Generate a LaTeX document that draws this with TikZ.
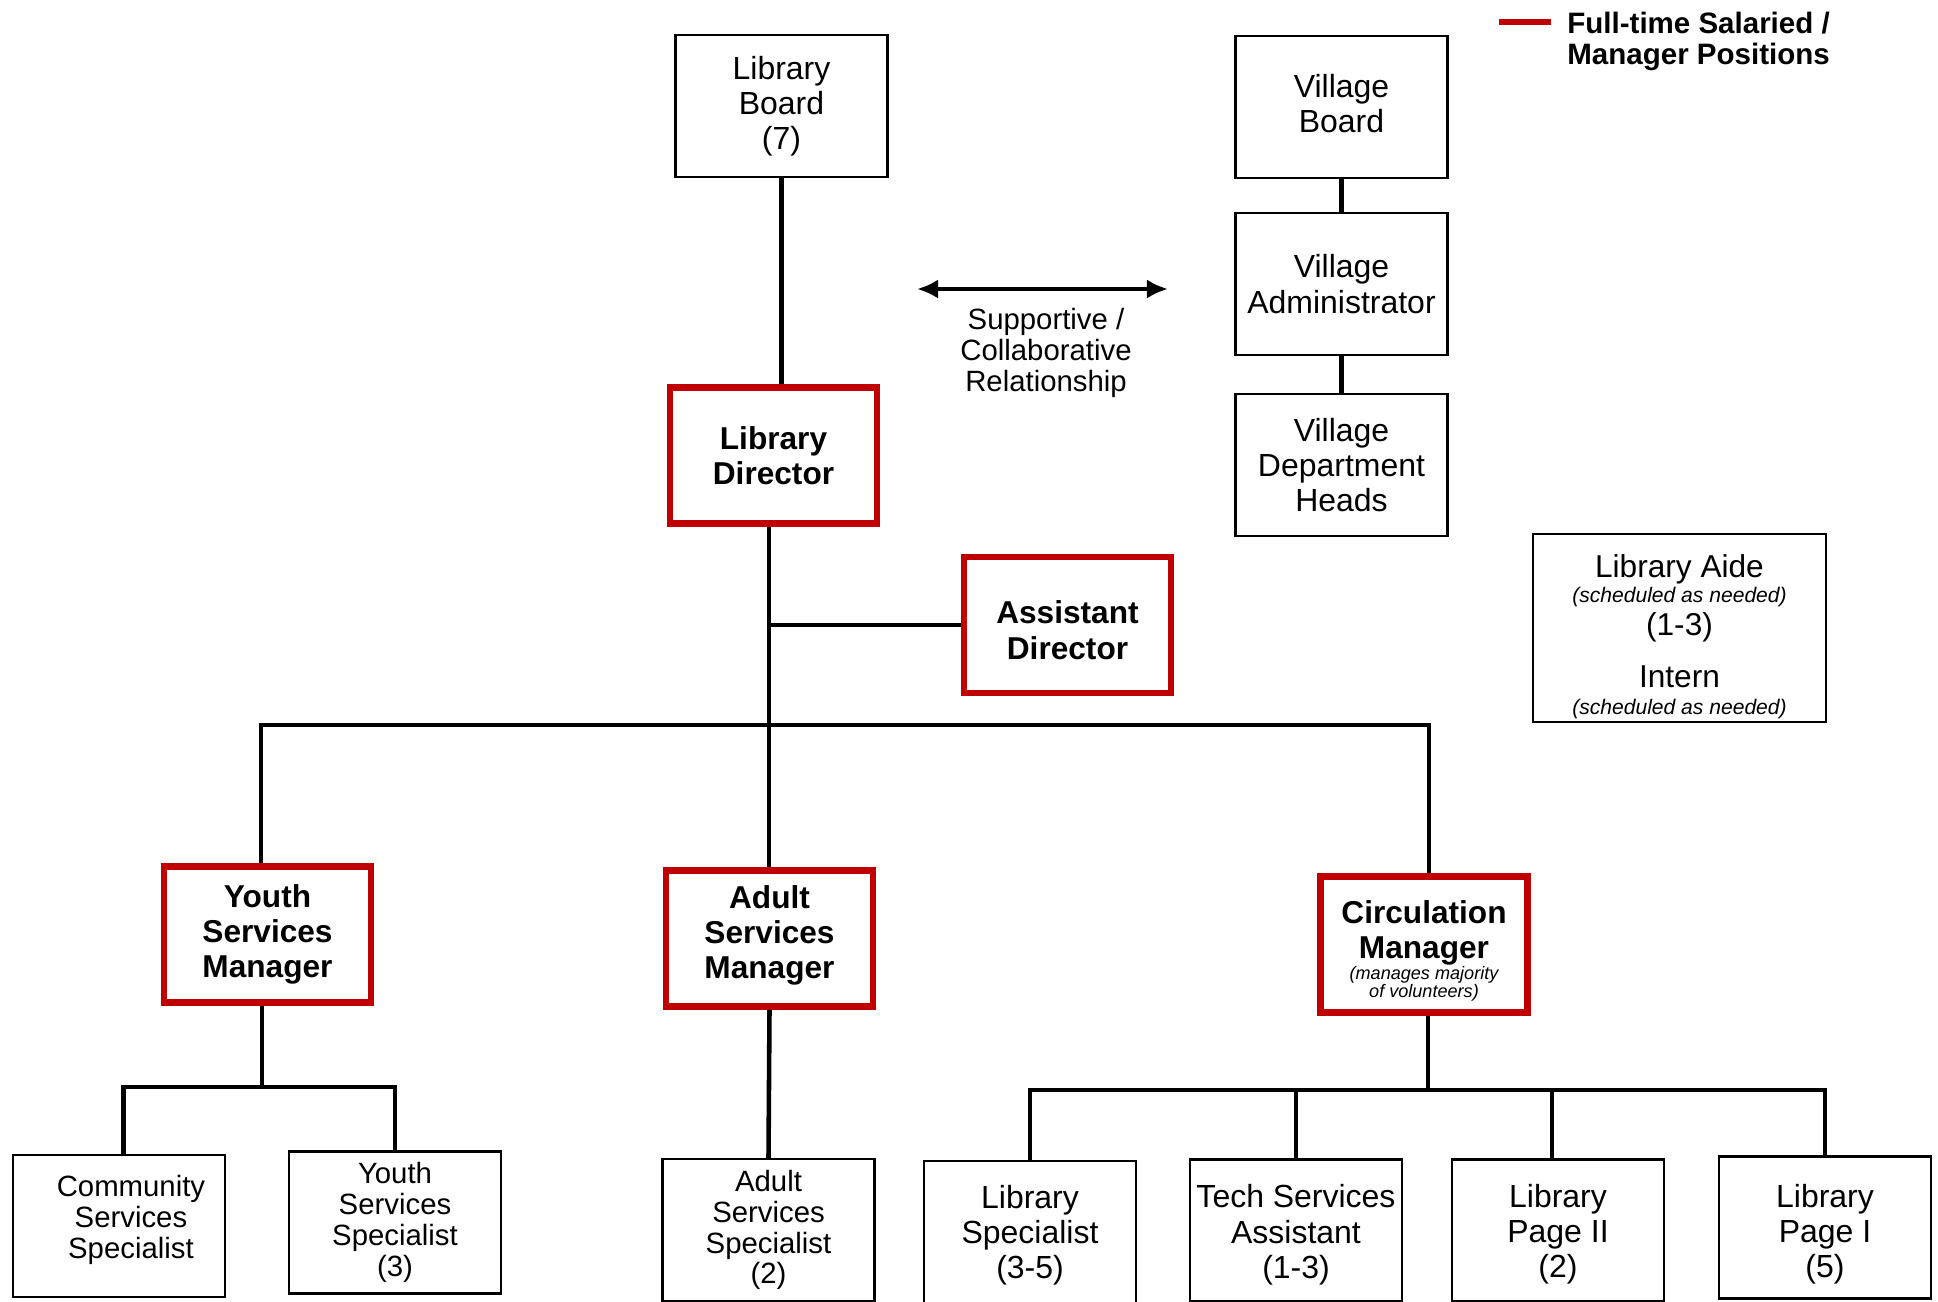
\documentclass[tikz,border=0pt]{standalone}
\usepackage{fontspec}
\setmainfont{Liberation Sans}
\usetikzlibrary{arrows.meta}
\definecolor{libred}{HTML}{C00000}
\newcommand\freelines{\lineskiplimit=-50pt\relax}
\newcommand\pushright{\hspace*{13.6pt}}

\tikzset{
  plainbox/.style={draw, line width=1.4pt, minimum width=4.24cm, minimum height=2.84cm,
    inner sep=1pt, align=center, font=\fontsize{18.2}{20}\selectfont},
  smallbox/.style={plainbox, font=\fontsize{16.7}{17.6}\selectfont},
  mgrbox/.style={draw=libred, line width=3.7pt, minimum width=4.14cm, minimum height=2.72cm,
    inner sep=1pt, align=center, font=\bfseries\fontsize{18}{20}\selectfont},
  link/.style={line width=2.6pt},
}

\begin{document}
\begin{tikzpicture}[x=0.02cm, y=-0.02cm]
  \useasboundingbox (0,0) rectangle (1938,1302);

  % legend
  \coordinate (keyL) at (1499,22);
  \coordinate (keyR) at (1551,22);
  \draw[libred, line width=3pt] (keyL) -- (keyR);
  \node[anchor=west, align=left, inner sep=0pt, font=\bfseries\fontsize{16.8}{17.6}\selectfont] (keytext) at (1567,41.5)
    {Full-time Salaried /\\Manager Positions};

  % library side
  \node[plainbox] (board) at (781.5,106) {Library\\Board\\(7)};
  \node[mgrbox] (director) at (773.5,455.5) {Library\\Director};
  \node[mgrbox] (assistant) at (1067.5,625) {\rule{0pt}{19pt}Assistant\\Director};

  % village side
  \node[plainbox] (vboard) at (1341.5,107) {Village\\Board\rule[-4.5pt]{0pt}{4.5pt}};
  \node[plainbox] (vadmin) at (1341.5,284) {Village\\Administrator};
  \node[plainbox] (vheads) at (1341.5,465) {Village\\Department\\Heads};

  % relationship arrow
  \coordinate (relL) at (917,289);
  \coordinate (relR) at (1168,289);
  \draw[link, {Latex[length=12pt,width=11pt]}-{Latex[length=12pt,width=11pt]}] (relL) -- (relR);
  \node[align=center, font=\fontsize{16.7}{17.6}\selectfont] (reltext) at (1046,353)
    {Supportive /\\Collaborative\\Relationship};

  % aides and interns
  \node[plainbox, minimum width=5.86cm, minimum height=3.76cm,
    font=\fontsize{18}{14}\selectfont\freelines] (aide) at (1679.5,628)
    {\rule{0pt}{23pt}Library Aide\\[0.2pt]
     {\itshape\fontsize{12}{14}\selectfont (scheduled as needed)}\\[4.8pt]
     (1-3)\\[15.6pt]
     Intern\\[1.4pt]
     {\itshape\fontsize{12}{14}\selectfont (scheduled as needed)}};

  % managers
  \node[mgrbox] (youthmgr) at (267.5,934.5) {Youth\\Services\\Manager};
  \node[mgrbox] (adultmgr) at (769.5,938.5) {Adult\\Services\\Manager\rule[-7pt]{0pt}{7pt}};
  \node[mgrbox, font=\bfseries\fontsize{18}{10}\selectfont\freelines] (circmgr) at (1424,944.5)
    {\rule{0pt}{20pt}Circulation\\[10pt]
     Manager\\[1.9pt]
     {\normalfont\itshape\fontsize{10.3}{10}\selectfont (manages majority}\\[0.4pt]
     {\normalfont\itshape\fontsize{10.3}{10}\selectfont of volunteers)}};

  % staff
  \node[smallbox] (community) at (119,1226)
    {\pushright Community\\\pushright Services\\\pushright Specialist\rule[-10pt]{0pt}{10pt}};
  \node[smallbox] (youthspec) at (395,1222.5) {Youth\\Services\\Specialist\\(3)};
  \node[smallbox] (adultspec) at (768.5,1230) {Adult\\Services\\Specialist\\(2)};
  \node[plainbox] (libspec) at (1030,1232) {\rule{0pt}{17pt}Library\\Specialist\\(3-5)};
  \node[plainbox] (tech) at (1296,1230.5) {\rule{0pt}{18pt}Tech Services\\Assistant\\(1-3)};
  \node[plainbox] (page2) at (1558,1230.5) {\rule{0pt}{17pt}Library\\Page II\\(2)};
  \node[plainbox] (page1) at (1825,1227.5) {\rule{0pt}{21pt}Library\\Page I\\(5)};

  % connectors
  \coordinate (topbar) at (769,725);
  \coordinate (ydrop) at (261,725);
  \coordinate (cdrop) at (1429,725);
  \coordinate (ybar) at (262,1087);
  \coordinate (cbar) at (1428,1090);

  \draw[link] (board.south) -- (board.south |- director.north);
  \draw[link] (vboard.south) -- (vadmin.north);
  \draw[link] (vadmin.south) -- (vheads.north);

  \draw[link] (director.south -| topbar) -- (topbar) -- (topbar |- adultmgr.north);
  \draw[link] (topbar |- assistant.west) -- (assistant.west);
  \draw[link] (ydrop |- youthmgr.north) -- (ydrop) -- (cdrop) -- (cdrop |- circmgr.north);

  \draw[link] (youthmgr.south -| ybar) -- (ybar);
  \draw[link] ([xshift=0.09cm]community.north) |- (ybar) -| (youthspec.north);
  \draw[link] (adultmgr.south) -- (adultspec.north);

  \draw[link] (circmgr.south -| cbar) -- (cbar);
  \draw[link] (libspec.north) |- (cbar) -| (page1.north);
  \draw[link] (tech.north) -- (tech.north |- cbar);
  \draw[link] ([xshift=-0.12cm]page2.north) -- ([xshift=-0.12cm]page2.north |- cbar);
\end{tikzpicture}
\end{document}
